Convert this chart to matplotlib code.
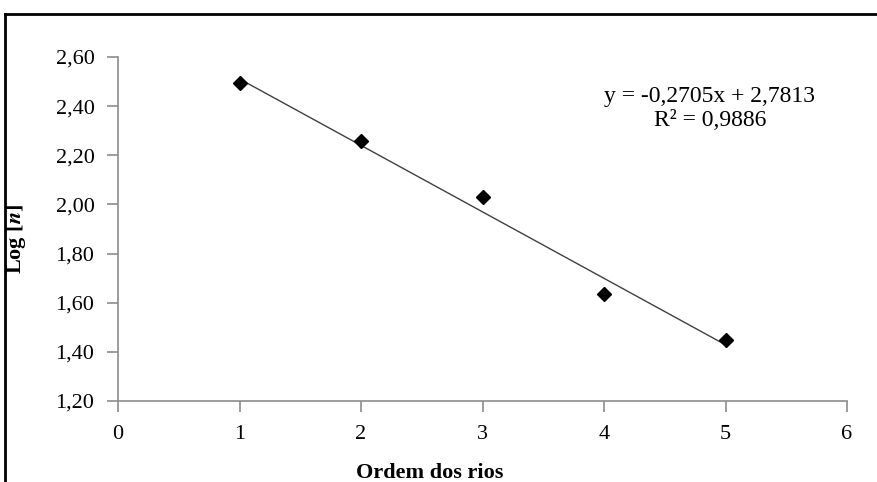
import matplotlib.pyplot as plt
from matplotlib.lines import Line2D

# dados
ordem = [1, 2, 3, 4, 5]
log_n = [2.494, 2.258, 2.030, 1.635, 1.448]
a, b = -0.2705, 2.7813
r2 = 0.9886

x_ticks = [0, 1, 2, 3, 4, 5, 6]
y_ticks = [1.20, 1.40, 1.60, 1.80, 2.00, 2.20, 2.40, 2.60]

plt.rcParams['font.family'] = ['Liberation Serif', 'DejaVu Serif']
plt.rcParams['mathtext.fontset'] = 'stix'

fig = plt.figure(figsize=(8.77, 4.82), dpi=100)
ax = fig.add_axes([0.1346, 0.168, 0.8312, 0.7137])

# moldura externa
fig.add_artist(Line2D([0.0057, 0.0057], [0, 0.971], color='black', lw=2, transform=fig.transFigure))
fig.add_artist(Line2D([0.0057, 1.0], [0.971, 0.971], color='black', lw=2, transform=fig.transFigure))

xs = [ordem[0], ordem[-1]]
ax.plot(xs, [a * x + b for x in xs], color='#404040', lw=1)
ax.plot(ordem, log_n, 'D', color='black', markersize=7)

ax.set_xlim(0, 6)
ax.set_ylim(1.2, 2.6)
ax.set_xticks(x_ticks)
ax.set_yticks(y_ticks)
ax.set_yticklabels([f'{v:.2f}'.replace('.', ',') for v in y_ticks])

for s in ['top', 'right']:
    ax.spines[s].set_visible(False)
for s in ['left', 'bottom']:
    ax.spines[s].set_color('#8c8c8c')
    ax.spines[s].set_linewidth(1.2)
ax.tick_params(axis='both', direction='out', length=8, color='#8c8c8c', width=1.2,
               labelsize=16, labelcolor='black')
ax.tick_params(axis='y', pad=9)
ax.tick_params(axis='x', pad=9)

ax.text(0.812, 0.85, f'y = -0,2705x + 2,7813\nR² = {r2:.4f}'.replace('0.', '0,'),
        transform=ax.transAxes, ha='center', va='center', fontsize=17, linespacing=1.15)

ax.set_ylabel(r'Log [$\boldsymbol{n}$]', fontsize=16, fontweight='bold')
ax.yaxis.set_label_coords(-0.124, 0.47)
ax.set_xlabel('Ordem dos rios', fontsize=16, fontweight='bold')
ax.xaxis.set_label_coords(0.427, -0.18)

fig.savefig('out.png', dpi=100)
